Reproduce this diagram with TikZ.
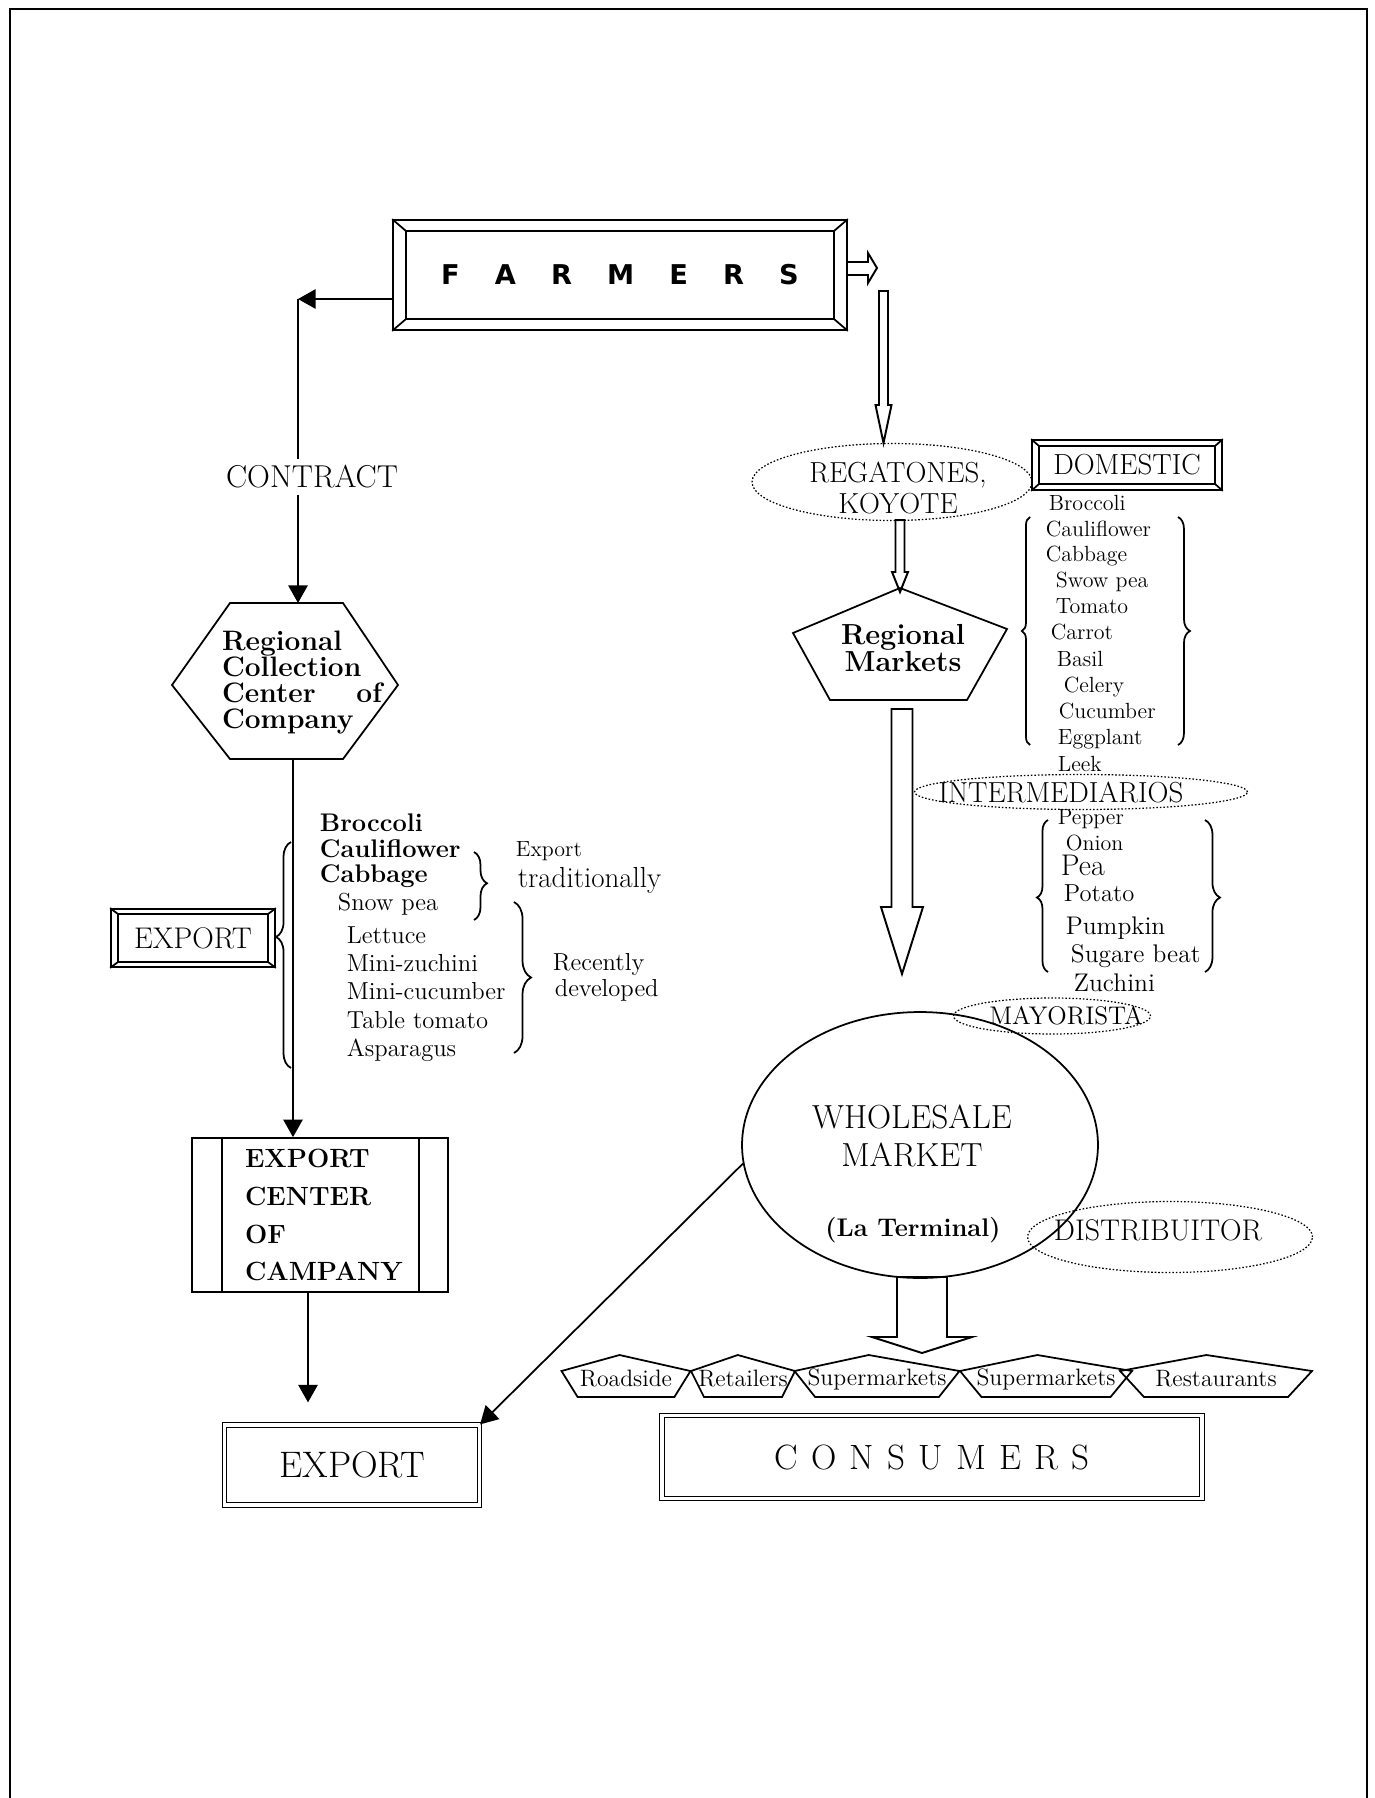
\documentclass[tikz,border=0pt]{standalone}
\usepackage{fontspec}
\newfontfamily\farmfont{DejaVu Sans}
\usetikzlibrary{arrows.meta,shapes.geometric,decorations.pathreplacing}

\newcommand\fsz[1]{\fontsize{#1}{#1}\selectfont}
% hollow block arrow pointing down: x, top, tip, half shaft, half head, head length
\newcommand\blockdown[6]{%
  \draw[hollow] (#1-#4,#2) -- (#1+#4,#2) -- (#1+#4,#3-#6) -- (#1+#5,#3-#6)
    -- (#1,#3) -- (#1-#5,#3-#6) -- (#1-#4,#3-#6) -- cycle;}
% bevelled frame inside a box node: node, inset x, inset y
\newcommand\bevel[3]{%
  \draw ([shift={(#2,#3)}]#1.north west) coordinate (#1-a)
    -- ([shift={(-#2,#3)}]#1.north east) coordinate (#1-b)
    -- ([shift={(-#2,-#3)}]#1.south east) coordinate (#1-c)
    -- ([shift={(#2,-#3)}]#1.south west) coordinate (#1-d) -- cycle;
  \draw (#1.north west) -- (#1-a) (#1.north east) -- (#1-b)
    (#1.south east) -- (#1-c) (#1.south west) -- (#1-d);}
% flat pentagon of the retail row: name, centre x, half width, text
\newcommand\shop[4]{%
  \node[shoptxt] (#1) at (#2,1379) {#4};
  \draw (#2-#3,1371) -- (#2-0.1*#3,1355) -- (#2+#3,1371) -- (#2+0.75*#3,1397)
    -- (#2-0.75*#3,1397) -- cycle;}

\tikzset{
  box/.style={draw, inner sep=0pt},
  dbox/.style={draw, double, double distance=1.8pt, line width=0.7pt, inner sep=0pt},
  dotell/.style={draw, ellipse, inner sep=0pt, line width=0.7pt, dash pattern=on 0.9pt off 1.1pt},
  hollow/.style={line width=1.1pt, line join=miter},
  arr/.style={-{Triangle[length=10pt,width=11pt]}},
  item/.style={anchor=west, inner sep=0pt, text height=1.5ex, text depth=0.3ex},
  shoptxt/.style={inner sep=0pt, font=\fsz{13.5}},
  brc/.style 2 args={decorate, decoration={brace, amplitude=#1, aspect=#2}},
}

\begin{document}
\begin{tikzpicture}[x=0.02cm, y=-0.02cm, line width=1pt]
  \useasboundingbox (0,0) rectangle (1374,1798);
  % page frame
  \draw[line width=1.4pt] (10,1798) -- (10,9) -- (1367,9) -- (1367,1798);

  % farmers
  \node[box, minimum width=9.08cm, minimum height=2.2cm, font=\farmfont\bfseries\fsz{15.5}] (farmers) at (620,275)
    {F\hspace{20pt}A\hspace{20pt}R\hspace{20pt}M\hspace{20pt}E\hspace{20pt}R\hspace{20pt}S};
  \bevel{farmers}{14}{12}
  \draw[hollow] (847,262) -- (868,262) -- (868,253) -- (877,268) -- (868,283) -- (868,275) -- (847,275);

  % contract branch
  \coordinate (corner) at (298,299);
  \draw[arr] ([shift={(0,24)}]farmers.west) -- (corner);
  \node[font=\fsz{18}, inner sep=3pt] (contract) at (312,477) {CONTRACT};
  \draw (corner) -- (corner |- contract.north);
  \coordinate (rcc-top) at (298,603);
  \draw[arr] (corner |- contract.south) -- (rcc-top);
  \coordinate (rcc-c) at (285,681);
  \draw[shift={(rcc-c)}] (-55,-78) -- (58,-78) -- (113,4) -- (58,78) -- (-55,78) -- (-113,4) -- cycle;
  \node[align=left, inner sep=0pt, font=\bfseries\fontsize{16}{14.8}\selectfont] (rcc) at (302,683)
    {Regional\\Collection\\\makebox[91pt][s]{Center of}\\Company};
  \coordinate (rcc-bot) at (293,759);

  % export products
  \node[box, minimum width=3.28cm, minimum height=1.16cm, font=\fsz{17}] (expsm) at (193,938) {EXPORT};
  \bevel{expsm}{8}{6}
  \draw[brc={8.5pt}{0.58}] (291,1068) -- (291,842);
  \foreach \t/\y [count=\i] in {Broccoli/827, Cauliflower/853, Cabbage/878}
    \node[item, font=\bfseries\fsz{14.5}] (exb\i) at (319,\y) {\t};
  \foreach \t/\x/\y [count=\i] in {Snow pea/337/906, Lettuce/346/939, Mini-zuchini/346/967,
      Mini-cucumber/346/995, Table tomato/346/1024, Asparagus/346/1052}
    \node[item, font=\fsz{14}] (exr\i) at (\x,\y) {\t};
  \draw[brc={7.4pt}{0.46}] (474,852) -- (474,920);
  \node[anchor=west, inner sep=0pt, font=\fsz{12.5}] (trad1) at (515,851) {Export};
  \node[anchor=west, inner sep=0pt, font=\fsz{16.5}] (trad2) at (517,880) {traditionally};
  \draw[brc={9.7pt}{0.5}] (514,902) -- (514,1053);
  \node[item, font=\fsz{14}] (rec1) at (552,966) {Recently};
  \node[item, font=\fsz{14}] (rec2) at (554,992) {developed};

  % export centre
  \node[box, minimum width=5.12cm, minimum height=3.08cm, text width=3cm, align=left,
    font=\bfseries\fontsize{15}{21.6}\selectfont] (ecc) at (320,1215) {EXPORT\\CENTER\\OF\\CAMPANY};
  \draw ([shift={(31,0)}]ecc.north west) -- ([shift={(31,0)}]ecc.south west)
        ([shift={(-30,0)}]ecc.north east) -- ([shift={(-30,0)}]ecc.south east);
  \draw[arr] (rcc-bot) -- (rcc-bot |- ecc.north);
  \node[dbox, minimum width=5.1cm, minimum height=1.6cm, font=\fsz{21}] (exp) at (352,1465) {EXPORT};
  \draw[arr, shorten >=0.44cm] ([shift={(-12,0)}]ecc.south) -- ([shift={(-44,0)}]exp.north);

  % domestic branch
  \blockdown{883.5}{291}{443}{4.5}{8}{38}
  \node[dotell, minimum width=5.6cm, minimum height=1.54cm] (reg) at (892,482) {};
  \node[align=center, inner sep=0pt, font=\fontsize{16.5}{17.6}\selectfont] (regtxt) at (898,488) {REGATONES,\\KOYOTE};
  \node[box, minimum width=3.8cm, minimum height=1cm, font=\fsz{16.5}] (dom) at (1127,465) {DOMESTIC};
  \bevel{dom}{8}{7}
  \blockdown{900}{520}{592}{4.5}{8}{20}
  \coordinate (rm-c) at (900,645);
  \draw[shift={(rm-c)}] (0,-57) -- (107,-16) -- (67,55) -- (-70,55) -- (-107,-12) -- cycle;
  \node[align=center, inner sep=0pt, font=\bfseries\fontsize{16.5}{14.2}\selectfont] (rm) at (903,648) {Regional\\Markets};
  \blockdown{902}{709}{974}{10.5}{21}{67}

  \foreach \t/\x/\y [count=\i] in {Broccoli/1048/506, Cauliflower/1045/532, Cabbage/1045/557,
      Swow pea/1055/583, Tomato/1055/609, Carrot/1050/635, Basil/1056/662, Celery/1063/688,
      Cucumber/1058/714, Eggplant/1057/740, Leek/1057/767}
    \node[item, font=\fsz{12.5}] (dl\i) at (\x,\y) {\t};
  \draw[brc={4.6pt}{0.5}] (1030,745) -- (1030,517);
  \draw[brc={6.8pt}{0.5}] (1178,517) -- (1178,745);

  \node[dotell, minimum width=6.66cm, minimum height=0.7cm] (int) at (1081,792) {};
  \node[inner sep=0pt, font=\fsz{16.5}] (inttxt) at (1061,792) {INTERMEDIARIOS};
  \foreach \t/\x/\y/\s [count=\i] in {Pepper/1057/820/12.5, Onion/1065/846/12.5, Pea/1060/871/17,
      Potato/1063/897/14, Pumpkin/1065/930/14.5, Sugare beat/1070/958/14.5, Zuchini/1073/987/14.5}
    \node[item, font=\fsz{\s}] (il\i) at (\x,\y) {\t};
  \draw[brc={6.3pt}{0.49}] (1048,972) -- (1048,820);
  \draw[brc={8.5pt}{0.51}] (1205,820) -- (1205,972);

  % wholesale market
  \node[draw, ellipse, minimum width=7.12cm, minimum height=5.32cm, inner sep=0pt] (wm) at (920,1145) {};
  \node[dotell, minimum width=3.94cm, minimum height=0.72cm] (may) at (1052,1016) {};
  \node[inner sep=0pt, font=\fsz{14.5}] (maytxt) at (1066,1016) {MAYORISTA};
  \node[align=center, inner sep=0pt, font=\fontsize{19}{21.6}\selectfont] (wmtxt) at (912,1136) {WHOLESALE\\MARKET};
  \node[inner sep=0pt, font=\bfseries\fsz{14.5}] (term) at (913,1230) {(La Terminal)};
  \node[dotell, minimum width=5.7cm, minimum height=1.42cm] (dist) at (1170,1237) {};
  \node[inner sep=0pt, font=\fsz{17}] (disttxt) at (1158,1230) {DISTRIBUITOR};
  \draw[arr] (wm.186) -- (exp.north east);
  \blockdown{922}{1277}{1353}{25}{50}{16}

  % retail row and consumers
  \shop{road}{626}{64.5}{Roadside}
  \shop{ret}{743}{52}{Retailers}
  \shop{sup1}{877}{82.5}{Supermarkets}
  \shop{sup2}{1046}{86}{Supermarkets}
  \shop{rest}{1216}{96}{Restaurants}
  \node[dbox, minimum width=10.8cm, minimum height=1.66cm, font=\fsz{20}] (cons) at (932,1457)
    {C\hspace{7.5pt}O\hspace{7.5pt}N\hspace{7.5pt}S\hspace{7.5pt}U\hspace{7.5pt}M\hspace{7.5pt}E\hspace{7.5pt}R\hspace{7.5pt}S};
\end{tikzpicture}
\end{document}
